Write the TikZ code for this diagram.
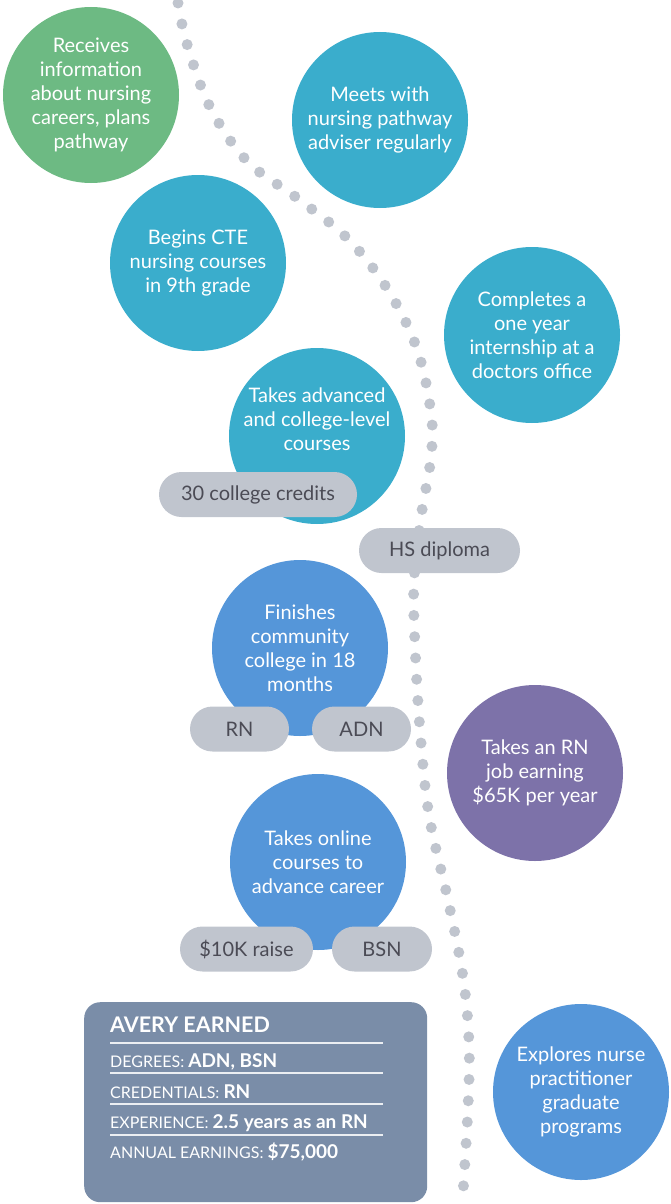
\documentclass[tikz,border=0pt]{standalone}
\usepackage{fontspec}
\setmainfont{Lato}
\usetikzlibrary{shapes,positioning}

\definecolor{stepgreen}{HTML}{6DBA83}
\definecolor{stepteal}{HTML}{3AADCC}
\definecolor{stepblue}{HTML}{5596D9}
\definecolor{steppurple}{HTML}{7D72A9}
\definecolor{pillgray}{HTML}{C0C5CE}
\definecolor{pilltext}{HTML}{4B4B55}
\definecolor{boxslate}{HTML}{7A8DA8}

\begin{document}
\begin{tikzpicture}[x=1pt, y=-1pt,
    milestone/.style={circle, minimum size=176pt, inner sep=0pt, text=white, align=center, font=\fontsize{20}{24}\selectfont},
    badge/.style={rectangle, rounded corners=22.5pt, fill=pillgray, minimum height=45pt, inner sep=0pt, text=pilltext, font=\fontsize{20}{24}\selectfont},
    rowlabel/.style={anchor=base west, inner sep=0pt, text=white, font=\fontsize{16}{18}\selectfont},
    rowline/.style={white!85!boxslate, line width=1.3pt}
]
\useasboundingbox (0,0) rectangle (670,1204);

% Pathway dots
\draw[pillgray, line width=11pt, line cap=round, dash pattern=on 0pt off 21.3pt]
    plot[smooth, tension=0.6] coordinates {(178,3) (187,44) (210,107) (247,161) (297,198) (348,239)
    (388,290) (417,349) (431,413) (431,457) (421,517) (414,581) (415,645) (420,730) (429,815)
    (448,900) (463,977) (469,1043) (468,1107) (463,1193)};

% High school
\node[milestone, fill=stepgreen] (info) at (91,95) {Receives\\information\\about nursing\\careers, plans\\pathway};
\node[milestone, fill=stepteal] (adviser) at (380,120) {Meets with\\nursing pathway\\adviser regularly};
\node[milestone, fill=stepteal] (cte) at (198,263) {Begins CTE\\nursing courses\\in 9th grade};
\node[milestone, fill=stepteal] (internship) at (532,335) {Completes a\\one year\\internship at a\\doctors office};
\node[milestone, fill=stepteal] (advanced) at (317,436) {};
\node[align=center, text=white, font=\fontsize{20}{24}\selectfont] (advancedtext) at (317,419) {Takes advanced\\and college-level\\courses};

\node[badge, minimum width=198pt] (credits) at (258,494.5) {30 college credits};
\node[badge, minimum width=161pt] (diploma) at (439.5,550.5) {HS diploma};

% Community college
\node[milestone, fill=stepblue] (college) at (300,648) {Finishes\\community\\college in 18\\months};
\node[badge, minimum width=99pt] (rn) at (239.5,729) {RN};
\node[badge, minimum width=99pt] (adn) at (361.5,729) {ADN};

\node[milestone, fill=steppurple] (job) at (535,773) {Takes an RN\\job earning\\\$65K per year};

% Career
\node[milestone, fill=stepblue] (online) at (318,862) {Takes online\\courses to\\advance career};
\node[badge, minimum width=133pt] (raise) at (246.5,949) {\$10K raise};
\node[badge, minimum width=100pt] (bsn) at (382,949) {BSN};

\node[milestone, fill=stepblue] (graduate) at (581,1092) {Explores nurse\\practitioner\\graduate\\programs};

% Summary box
\node[rectangle, fill=boxslate, rounded corners=16pt, minimum width=343pt, minimum height=200pt, anchor=north west] (earned) at (84,1002) {};
\node[anchor=base west, inner sep=0pt, text=white, font=\fontsize{21.5}{24}\selectfont\bfseries] (title) at (110,1032) {AVERY EARNED};
\draw[rowline] (110,1043) -- (383,1043);
\node[rowlabel] (degrees) at (110,1067) {DEGREES: {\fontsize{19}{20}\selectfont\bfseries ADN, BSN}};
\draw[rowline] (110,1073) -- (383,1073);
\node[rowlabel] (credentials) at (110,1098) {CREDENTIALS: {\fontsize{19}{20}\selectfont\bfseries RN}};
\draw[rowline] (110,1104) -- (383,1104);
\node[rowlabel] (experience) at (110,1128) {EXPERIENCE: {\fontsize{19}{20}\selectfont\bfseries 2.5 years as an RN}};
\draw[rowline] (110,1135) -- (383,1135);
\node[rowlabel] (earnings) at (110,1158) {ANNUAL EARNINGS: {\fontsize{19}{20}\selectfont\bfseries \$75,000}};

\end{tikzpicture}
\end{document}
